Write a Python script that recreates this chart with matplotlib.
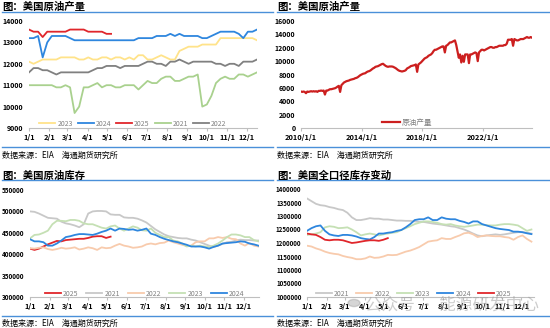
import numpy as np
import pandas as pd
import matplotlib
matplotlib.use("Agg")
import matplotlib.pyplot as plt
from matplotlib.lines import Line2D

plt.rcParams['font.family'] = ['Noto Sans CJK SC', 'DejaVu Sans']

# ---------------- data ----------------
month_ticks = [0, 31, 59, 90, 120, 151, 181, 212, 243, 273, 304, 334]
month_labels = ['1/1', '2/1', '3/1', '4/1', '5/1', '6/1', '7/1', '8/1', '9/1', '10/1', '11/1', '12/1']

# weekly US crude production by year (kb/d)
prod_2023 = [12100, 12000, 12100, 12200, 12200, 12200, 12200, 12300, 12300, 12300, 12300, 12200, 12200,
             12300, 12200, 12200, 12300, 12300, 12200, 12300, 12300, 12200, 12300, 12200, 12400, 12400,
             12200, 12200, 12300, 12400, 12300, 12200, 12200, 12600, 12700, 12800, 12800, 12800, 12900,
             12900, 12900, 12900, 13200, 13200, 13200, 13200, 13200, 13200, 13200, 13200, 13100]
prod_2024 = [13200, 13200, 13300, 12300, 13000, 13300, 13300, 13300, 13300, 13200, 13100, 13100, 13100,
             13100, 13100, 13100, 13100, 13100, 13100, 13100, 13100, 13100, 13100, 13100, 13200, 13200,
             13200, 13200, 13300, 13300, 13300, 13400, 13300, 13400, 13300, 13300, 13300, 13300, 13200,
             13200, 13300, 13400, 13500, 13500, 13500, 13500, 13400, 13200, 13500, 13500, 13600]
prod_2025 = [13600, 13500, 13500, 13250, 13500, 13500, 13500, 13500, 13500, 13600, 13600, 13600, 13600,
             13500, 13500, 13500, 13500, 13400, 13400]
prod_2021 = [11000, 11000, 11000, 11000, 11000, 11000, 10900, 10900, 11000, 10900, 9700, 10000, 10900,
             10900, 11000, 11100, 10900, 11000, 11000, 10900, 10900, 11000, 11000, 11000, 10800, 11000,
             11200, 11100, 11100, 11300, 11400, 11400, 11200, 11200, 11300, 11400, 11400, 11500, 10000,
             10100, 10500, 11100, 11300, 11400, 11300, 11300, 11500, 11500, 11400, 11500, 11600]
prod_2022 = [11600, 11800, 11800, 11700, 11700, 11600, 11500, 11600, 11600, 11600, 11600, 11600, 11600,
             11600, 11700, 11800, 11800, 11900, 11900, 11900, 11800, 11900, 11900, 11900, 11900, 12000,
             12100, 12100, 12000, 12000, 11900, 12100, 12100, 12200, 12100, 12000, 12100, 12100, 12100,
             12100, 12100, 12000, 12000, 11900, 12000, 12000, 11900, 12100, 12100, 12100, 12200]

# monthly US crude production since 2010 (kb/d)
hist_prod = [
    5450, 5400, 5450, 5400, 5200, 5450, 5400, 5450, 5500, 5450, 5500, 5450,
    5500, 5400, 5550, 5550, 5600, 5550, 5600, 5000, 5600, 5600, 5700, 5800,
    5800, 5850, 5900, 5950, 6050, 6200, 6300, 5400, 6400, 6600, 6800, 6900,
    7000, 7050, 7100, 7200, 7250, 7300, 7350, 7450, 7500, 7600, 7750, 7900,
    8000, 8100, 8150, 8200, 8350, 8450, 8500, 8600, 8750, 8900, 9000, 9150,
    9200, 9250, 9350, 9450, 9550, 9600, 9450, 9300, 9200, 9150, 9200, 9200,
    9200, 9150, 9050, 8950, 8800, 8650, 8550, 8500, 8450, 8500, 8550, 8650,
    8900, 9000, 9100, 9250, 9300, 9350, 9400, 9500, 8400, 9500, 9650, 9800,
    10000, 10200, 10400, 10500, 10600, 10800, 10900, 11000, 11200, 11500, 11700, 11700,
    11800, 11900, 12000, 12100, 12200, 12200, 11300, 12300, 12400, 12600, 12800, 12800,
    12900, 13000, 13100, 12400, 11500, 10500, 11000, 9800, 10800, 9900, 11000, 11000,
    11000, 9700, 11000, 11000, 11100, 11200, 11300, 11200, 10000, 11300, 11500, 11700,
    11700, 11600, 11700, 11800, 11900, 12000, 12100, 12100, 12000, 12000, 12100, 12100,
    12200, 12300, 12300, 12300, 12300, 12400, 12400, 12600, 13200, 13200, 13200, 13300,
    12300, 13300, 13200, 13100, 13100, 13200, 13300, 13300, 13300, 13400, 13500, 13600,
    13500, 13500, 13600, 13500,
]

# weekly commercial crude stocks (kb)
stk_2025 = [413, 410, 413, 418, 423, 427, 431, 430, 433, 434, 435, 436, 436, 438, 441, 442, 442, 438, 441]
stk_2021 = [500, 499, 495, 490, 485, 484, 483, 476, 472, 470, 467, 463, 470, 495, 500, 501, 501, 500,
            493, 492, 492, 486, 485, 485, 483, 479, 474, 466, 458, 452, 446, 442, 440, 438, 437, 437,
            434, 432, 428, 424, 420, 417, 420, 424, 428, 429, 432, 434, 433, 433, 432, 432]
stk_2022 = [414, 413, 415, 416, 412, 410, 412, 415, 413, 414, 416, 411, 413, 416, 414, 410, 416, 414,
            415, 420, 424, 420, 418, 415, 416, 418, 423, 425, 423, 426, 427, 432, 428, 425, 422, 419,
            420, 428, 430, 430, 437, 437, 440, 438, 440, 436, 435, 425, 420, 426, 420, 418]
stk_2023 = [437, 445, 446, 450, 455, 470, 478, 478, 477, 480, 480, 478, 472, 470, 470, 466, 462, 460,
            465, 467, 460, 455, 460, 465, 462, 456, 455, 460, 450, 445, 440, 440, 432, 430, 425, 418,
            420, 418, 420, 418, 417, 420, 425, 432, 440, 446, 446, 444, 440, 440, 433, 430]
stk_2024 = [435, 430, 430, 428, 420, 420, 425, 432, 440, 442, 445, 447, 447, 446, 445, 448, 452, 455,
            460, 455, 460, 459, 457, 458, 455, 457, 460, 448, 445, 440, 436, 433, 430, 428, 425, 422,
            418, 418, 418, 416, 413, 417, 420, 425, 426, 427, 428, 430, 429, 425, 423, 420]

# weekly total crude stocks incl. SPR (kb)
tot_2021 = [1365, 1355, 1345, 1340, 1338, 1333, 1330, 1325, 1322, 1312, 1295, 1285, 1285, 1288, 1292,
            1290, 1290, 1287, 1287, 1285, 1283, 1283, 1282, 1282, 1280, 1278, 1278, 1275, 1272, 1270,
            1268, 1265, 1262, 1260, 1255, 1250, 1243, 1235, 1228, 1225, 1228, 1230, 1232, 1230, 1232,
            1235, 1238, 1240, 1240, 1238, 1235]
tot_2022 = [1190, 1187, 1180, 1175, 1168, 1163, 1160, 1158, 1152, 1148, 1145, 1140, 1140, 1143, 1150,
            1145, 1146, 1150, 1156, 1155, 1156, 1162, 1168, 1172, 1178, 1185, 1195, 1205, 1208, 1210,
            1218, 1215, 1215, 1222, 1228, 1236, 1238, 1232, 1222, 1226, 1228, 1226, 1225, 1225, 1222,
            1220, 1212, 1222, 1228, 1215, 1205]
tot_2023 = [1230, 1232, 1235, 1240, 1258, 1262, 1260, 1255, 1256, 1258, 1250, 1240, 1228, 1232, 1235,
            1232, 1228, 1232, 1235, 1238, 1240, 1248, 1255, 1262, 1270, 1275, 1280, 1280, 1278, 1275,
            1270, 1268, 1270, 1265, 1262, 1260, 1262, 1265, 1268, 1268, 1266, 1265, 1265, 1268, 1270,
            1270, 1268, 1265, 1255, 1245, 1250]
tot_2024 = [1245, 1255, 1262, 1265, 1245, 1232, 1228, 1226, 1230, 1230, 1228, 1224, 1218, 1215, 1213,
            1222, 1235, 1235, 1238, 1240, 1245, 1248, 1258, 1270, 1285, 1288, 1288, 1295, 1285, 1285,
            1295, 1290, 1288, 1288, 1282, 1278, 1272, 1280, 1280, 1270, 1265, 1260, 1255, 1252, 1250,
            1248, 1242, 1242, 1240, 1236, 1233]
tot_2025 = [1235, 1232, 1230, 1222, 1212, 1210, 1212, 1212, 1210, 1205, 1200, 1202, 1205, 1208, 1210,
            1210, 1208, 1212, 1218]

# colours
c_2023y = '#FFE38A'
c_blue = '#2E86DE'
c_red = '#E0262B'
c_green = '#A9D18E'
c_gray = '#808080'
c_lgray = '#C8C8C8'
c_peach = '#F8CBAD'
c_lgreen = '#C5E0B4'
c_rule = '#4A90D9'

W, H = 550, 328
fig = plt.figure(figsize=(W / 100, H / 100), dpi=100)


def rect(l, t, r, b):
    return [l / W, 1 - b / H, (r - l) / W, (b - t) / H]


def hline(x0, x1, y):
    fig.add_artist(Line2D([x0 / W, x1 / W], [1 - y / H, 1 - y / H], transform=fig.transFigure,
                          color=c_rule, lw=1.0))


def frame(x0, x1, title, ty, ly, fy, fly):
    fig.text(x0 / W, 1 - ty / H, title, fontsize=7.5, fontweight='bold', va='center', ha='left')
    hline(x0, x1, ly)
    hline(x0, x1, fly)
    fig.text(x0 / W, 1 - fy / H, '数据来源：EIA　海通期货研究所', fontsize=5.8, va='center', ha='left')


def style(ax, ysize=5):
    for s in ['top', 'right', 'left']:
        ax.spines[s].set_visible(False)
    ax.spines['bottom'].set_color('#BFBFBF')
    ax.spines['bottom'].set_linewidth(0.8)
    ax.tick_params(axis='y', length=0, labelsize=ysize, pad=4)
    ax.tick_params(axis='x', length=2, color='#BFBFBF', labelsize=5.3, pad=2)
    for lab in ax.get_xticklabels() + ax.get_yticklabels():
        lab.set_fontweight('bold')


def weeks(vals):
    return np.arange(len(vals)) * 7


def yticks(ax, lo, hi, step):
    vals = list(range(lo, hi + 1, step))
    ax.set_ylim(lo, hi)
    ax.set_yticks(vals, [str(v) for v in vals])


# panel 1: weekly production by year
ax1 = fig.add_axes(rect(29, 21, 257, 128))
for vals, col, lab in [(prod_2023, c_2023y, '2023'), (prod_2024, c_blue, '2024'),
                       (prod_2025, c_red, '2025'), (prod_2021, c_green, '2021'),
                       (prod_2022, c_gray, '2022')]:
    ax1.plot(weeks(vals), vals, color=col, lw=1.3, label=lab)
ax1.set_xlim(0, 350)
yticks(ax1, 9000, 14000, 1000)
ax1.set_xticks(month_ticks, month_labels)
style(ax1)
ax1.legend(ncol=5, loc='center', bbox_to_anchor=(0.456, 0.04), frameon=False, fontsize=5,
           handlelength=2.3, handletextpad=0.3, columnspacing=0.7, labelcolor='#808080')
frame(2, 273, '图：美国原油产量', 7, 12, 155, 147)

# panel 2: production history
ax2 = fig.add_axes(rect(301, 21, 532, 128))
dates = pd.date_range('2010-01-01', periods=len(hist_prod), freq='MS')
ax2.plot(dates, hist_prod, color='#CC1F1F', lw=1.6, label='原油产量')
ax2.set_xlim(pd.Timestamp('2010-01-01'), pd.Timestamp('2025-04-01'))
yticks(ax2, 0, 16000, 2000)
yt = [pd.Timestamp(f'{y}-01-01') for y in (2010, 2014, 2018, 2022)]
ax2.set_xticks(yt, [f'{y}/1/1' for y in (2010, 2014, 2018, 2022)])
style(ax2)
ax2.legend(loc='center', bbox_to_anchor=(0.46, 0.05), frameon=False, fontsize=5.5,
           handlelength=2.3, handletextpad=0.3, labelcolor='#808080')
frame(277, 550, '图：美国原油产量', 7, 12, 155, 147)

# panel 3: commercial crude stocks
ax3 = fig.add_axes(rect(30, 190, 259, 297))
for vals, col, lab in [(stk_2025, c_red, '2025'), (stk_2021, c_lgray, '2021'),
                       (stk_2022, c_peach, '2022'), (stk_2023, c_lgreen, '2023'),
                       (stk_2024, c_blue, '2024')]:
    ax3.plot(weeks(vals), np.array(vals) * 1000, color=col, lw=1.3, label=lab)
ax3.set_xlim(0, 358)
yticks(ax3, 300000, 550000, 50000)
ax3.set_xticks(month_ticks, month_labels)
style(ax3, ysize=4.6)
ax3.legend(ncol=5, loc='center', bbox_to_anchor=(0.50, 0.03), frameon=False, fontsize=5,
           handlelength=2.3, handletextpad=0.3, columnspacing=1.15, labelcolor='#808080')
frame(2, 273, '图：美国原油库存', 176, 180, 323, 316)

# panel 4: total stocks incl. SPR
ax4 = fig.add_axes(rect(307, 189, 534, 297))
for vals, col, lab in [(tot_2021, c_lgray, '2021'), (tot_2022, c_peach, '2022'),
                       (tot_2023, c_lgreen, '2023'), (tot_2024, c_blue, '2024'),
                       (tot_2025, c_red, '2025')]:
    ax4.plot(weeks(vals), np.array(vals) * 1000, color=col, lw=1.3, label=lab)
ax4.set_xlim(0, 354)
yticks(ax4, 1000000, 1400000, 50000)
ax4.set_xticks(month_ticks, month_labels)
style(ax4, ysize=4.4)
ax4.legend(ncol=5, loc='center', bbox_to_anchor=(0.47, 0.03), frameon=False, fontsize=5,
           handlelength=2.3, handletextpad=0.3, columnspacing=1.0, labelcolor='#808080')
frame(277, 550, '图：美国全口径库存变动', 176, 180, 323, 316)

# account watermark
fig.text(452 / W, 1 - 305 / H, '公众号 · 能源研发中心', fontsize=12, color='#9a9a9a', alpha=0.5,
         ha='center', va='center')
fig.add_artist(plt.Circle((354 / W, 1 - 303 / H), 6 / W, transform=fig.transFigure,
                          color='#9a9a9a', alpha=0.4))

fig.savefig('out.png', dpi=100)
